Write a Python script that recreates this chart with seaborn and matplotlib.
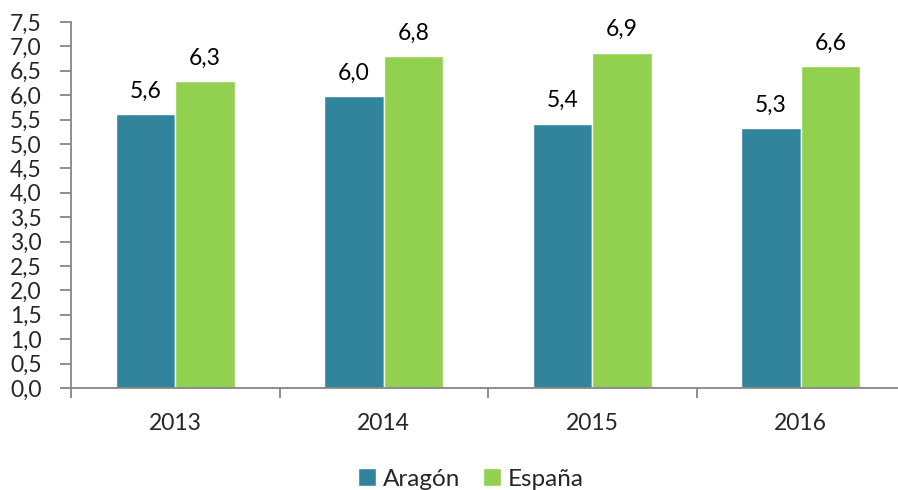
import matplotlib
matplotlib.use("Agg")
import matplotlib.pyplot as plt
import seaborn as sns
import pandas as pd
from matplotlib.ticker import FixedLocator, FuncFormatter

years = ["2013", "2014", "2015", "2016"]
aragon = [5.61, 5.98, 5.42, 5.33]
espana = [6.29, 6.80, 6.87, 6.60]
series_names = ["Aragón", "España"]
colors = ["#31849B", "#92D050"]

df = pd.DataFrame({
    "year": years * 2,
    "value": aragon + espana,
    "serie": [series_names[0]] * 4 + [series_names[1]] * 4,
})

sns.set_style("white")
plt.rcParams["font.family"] = ["Lato", "DejaVu Sans"]

FS = 16.5

fig = plt.figure(figsize=(8.98, 4.90), dpi=100)
ax = fig.add_axes([71 / 898, 1 - 388 / 490, (905 - 71) / 898, (388 - 22) / 490])

sns.barplot(data=df, x="year", y="value", hue="serie", palette=colors,
            width=0.57, gap=0, saturation=1, ax=ax, legend=True)

for c in ax.containers:
    ax.bar_label(c, labels=[f"{v:.1f}".replace(".", ",") for v in c.datavalues],
                 padding=9, fontsize=FS, color="#000000")

ax.set_ylim(0, 7.5)
ax.set_xlim(-0.5, 3.5)
ax.yaxis.set_major_locator(FixedLocator([i * 0.5 for i in range(16)]))
ax.yaxis.set_major_formatter(FuncFormatter(lambda v, p: f"{v:.1f}".replace(".", ",")))
ax.tick_params(axis="y", which="major", length=8, width=1.3, color="#868686",
               direction="out", labelsize=FS, pad=13, left=True)
ax.tick_params(axis="x", which="major", length=0, labelsize=FS, pad=18)
ax.set_xticks([-0.5, 0.5, 1.5, 2.5, 3.5], minor=True)
ax.tick_params(axis="x", which="minor", length=7, width=1.3, color="#868686",
               direction="out", bottom=True)
ax.set_xlabel("")
ax.set_ylabel("")

for s in ["top", "right"]:
    ax.spines[s].set_visible(False)
for s in ["left", "bottom"]:
    ax.spines[s].set_color("#868686")
    ax.spines[s].set_linewidth(1.3)

handles, labels = ax.get_legend_handles_labels()
ax.legend_.remove()
fig.legend(handles, labels, loc="center", bbox_to_anchor=(471 / 898, 1 - 479 / 490),
           ncol=2, frameon=False, fontsize=17.5, handlelength=0.75, handleheight=0.75,
           handletextpad=0.3, columnspacing=0.9, borderpad=0)

fig.savefig("out.png", dpi=100)
